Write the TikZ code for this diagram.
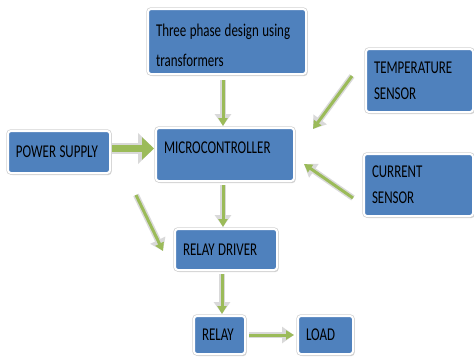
\documentclass[tikz,border=0pt]{standalone}
\usepackage{fontspec}
\usepackage{tikz}
\usetikzlibrary{arrows.meta,shadows,calc}
\newfontfamily\boxfont[FakeStretch=0.72]{Carlito}
\newcommand\blkfont{\boxfont\fontsize{18}{22}\selectfont\spaceskip 3.5pt\relax}
\definecolor{boxblue}{RGB}{79,129,189}
\definecolor{flowgreen}{RGB}{155,187,89}

\begin{document}
\begin{tikzpicture}[x=1pt,y=-1pt]
    \tikzstyle{blk}=[fill=boxblue,draw=white,line width=2pt,rounded corners=3pt,inner xsep=8pt,inner ysep=0pt,align=flush left,anchor=north west,font=\blkfont,text=black,drop shadow={shadow xshift=1.5pt,shadow yshift=-2pt,opacity=0.35},preaction={draw=gray!35,line width=3.5pt}]
    \tikzstyle{flow}=[draw=flowgreen,line width=3pt,-{Triangle[length=8pt,width=9pt]},preaction={draw=gray!30,line width=6pt,-{Triangle[length=12pt,width=16pt]}}]
    \tikzstyle{bigflow}=[draw=flowgreen,line width=7pt,-{Triangle[length=12pt,width=22pt]},preaction={draw=gray!30,line width=11pt,-{Triangle[length=16pt,width=30pt]}}]
    \useasboundingbox (0,0) rectangle (474,360);
    \node[blk,text width=142pt,minimum height=65pt,text height=21pt] (phase) at (147,8) {Three phase design using\\[8pt]transformers};
    \node[blk,text width=86pt,minimum height=42pt] (power) at (7,130) {POWER SUPPLY};
    \node[blk,text width=122pt,minimum height=53pt,text depth=13pt] (micro) at (155,127) {MICROCONTROLLER};
    \node[blk,text width=91pt,minimum height=63pt] (temp) at (365,48) {TEMPERATURE\\[4pt]SENSOR};
    \node[blk,text width=93pt,minimum height=62pt] (current) at (363,153) {CURRENT\\[4pt]SENSOR};
    \node[blk,text width=86pt,minimum height=41pt] (driver) at (174,228) {RELAY DRIVER};
    \node[blk,text width=35pt,minimum height=38pt] (relay) at (193,315) {RELAY};
    \node[blk,text width=39pt,minimum height=38pt] (load) at (297,315) {LOAD};
    \coordinate (loose) at (136,195);
    \draw[flow] ($(phase.south)+(-4,5)$) -- ($(micro.north)+(-2,-1)$);
    \draw[bigflow] ($(power.east)+(1,-3.5)$) -- ($(micro.west)+(-1,-6)$);
    \draw[flow] ($(temp.west)+(-13,-4.5)$) -- ($(micro.north east)+(18,2)$);
    \draw[flow] ($(current.west)+(-10,13)$) -- ($(micro.east)+(9,9.5)$);
    \draw[flow] ($(micro.south)+(-2,3)$) -- ($(driver.north)+(-3,-1)$);
    \draw[flow] (loose) -- ($(driver.west)+(-11,1.5)$);
    \draw[flow] ($(driver.south)+(-4,3)$) -- ($(relay.north)+(2.5,-1)$);
    \draw[flow] ($(relay.east)+(3,0)$) -- ($(load.west)+(-3,0)$);
\end{tikzpicture}
\end{document}
